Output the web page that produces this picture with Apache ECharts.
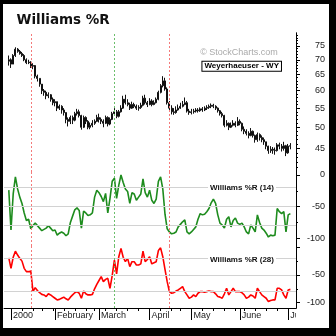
<!DOCTYPE html>
<html><head><meta charset="utf-8">
<script src="https://cdn.jsdelivr.net/npm/echarts@6/dist/echarts.min.js"></script>
<style>html,body{margin:0;padding:0;background:#000}#c{width:336px;height:336px}</style>
</head><body><div id="c"></div>
<script>
// Weyerhaeuser (WY) daily bars, 31 Dec 1999 - 5 Jul 2000, with Williams %R (14) and (28)
const holidays = ['2000-01-17', '2000-02-21', '2000-04-21', '2000-05-29', '2000-07-04'];
const firstDay = '1999-12-31', lastDay = '2000-07-05';
const monthLabels = ['2000', 'February', 'March', 'April', 'May', 'June', 'July'];

const opens = [69.5,70.0,68.5,71.5,73.8,73.0,72.2,71.5,70.0,69.0,69.2,67.8,68.0,64.5,63.8,62.0,60.0,59.5,58.5,58.8,57.5,56.5,56.8,55.0,55.5,54.5,53.8,52.0,51.5,52.5,51.8,53.5,54.0,53.0,50.0,52.5,51.5,50.0,50.5,51.0,51.5,52.5,52.0,51.5,51.0,52.5,50.8,52.0,53.5,54.0,52.8,54.0,55.0,57.5,56.5,56.0,55.0,56.0,55.5,55.0,55.2,55.8,57.8,56.5,56.0,57.0,56.0,56.5,57.5,59.5,61.5,63.0,60.5,56.5,55.0,54.0,53.8,54.5,55.0,55.5,56.0,56.5,54.2,53.8,54.0,54.2,54.5,54.3,54.8,54.5,55.0,55.2,55.5,55.8,55.5,55.0,54.3,53.5,53.0,50.5,51.0,50.0,50.5,51.0,50.5,51.5,51.0,49.5,49.0,48.5,48.0,49.0,48.0,47.0,48.2,47.5,47.0,46.5,45.5,44.5,44.8,44.6,44.5,45.8,45.5,45.0,45.6,44.0,45.5];
const highs = [71.5,70.5,72.0,74.5,74.2,73.5,72.8,72.0,70.5,70.0,69.5,68.8,68.2,65.0,63.8,62.0,60.5,60.0,59.5,59.0,58.0,57.5,56.8,56.0,55.8,55.0,53.8,52.5,53.0,53.0,54.0,54.8,54.6,53.2,53.0,52.8,51.8,51.2,51.8,52.0,53.2,53.5,52.5,52.0,53.0,52.8,52.5,54.0,55.0,54.5,54.5,55.8,58.5,58.8,57.5,56.5,56.8,56.5,56.0,55.8,56.5,58.5,58.8,57.0,57.8,57.5,57.2,58.0,60.0,62.0,64.5,64.0,61.0,57.0,55.8,55.0,55.5,56.0,56.5,57.0,58.0,57.0,54.8,54.8,54.8,55.0,55.0,55.2,55.3,55.5,55.8,56.0,56.3,56.2,55.8,55.2,54.5,54.0,53.2,51.8,51.2,51.2,51.8,51.5,52.6,52.0,51.2,50.2,49.5,49.0,49.8,49.2,48.2,48.7,48.5,48.0,47.5,46.5,45.6,45.5,45.3,45.2,46.2,46.3,46.0,46.5,45.8,46.0,46.2];
const lows = [68.0,67.2,68.5,71.0,72.5,71.8,71.0,69.5,68.5,68.5,67.2,66.8,63.8,62.8,61.2,59.0,58.5,57.5,57.8,56.8,55.8,55.5,54.2,54.5,53.5,53.0,51.0,50.2,50.8,50.8,51.5,53.0,52.5,49.4,49.8,50.8,49.5,49.5,50.0,50.6,51.3,51.2,50.8,50.0,50.8,50.2,50.5,51.8,53.0,52.3,52.5,53.8,54.8,56.0,55.5,54.5,54.8,55.0,54.5,54.3,54.8,55.5,56.0,55.3,55.8,55.5,55.8,56.3,57.2,59.2,61.0,60.0,56.0,54.5,53.3,53.2,53.5,54.3,54.8,55.2,55.8,53.8,53.2,53.3,53.5,53.8,53.8,54.0,54.0,54.2,54.5,54.8,55.0,55.0,54.5,53.8,53.0,52.5,50.0,50.2,49.3,49.8,50.2,50.0,50.3,50.5,49.0,48.3,48.0,47.3,47.8,47.5,46.3,46.5,46.8,46.4,45.8,44.8,43.8,44.0,43.8,43.6,44.3,44.8,44.3,44.5,43.3,43.8,44.8];
const closes = [70.0,68.5,71.5,73.8,73.0,72.2,71.5,70.0,69.0,69.2,67.8,68.0,64.5,63.8,62.0,60.0,59.5,58.5,58.8,57.5,56.5,56.8,55.0,55.5,54.5,53.8,52.0,51.5,52.5,51.8,53.5,54.0,53.0,50.0,52.5,51.5,50.0,50.5,51.0,51.5,52.5,52.0,51.5,51.0,52.5,50.8,52.0,53.5,54.0,52.8,54.0,55.0,57.5,56.5,56.0,55.0,56.0,55.5,55.0,55.2,55.8,57.8,56.5,56.0,57.0,56.0,56.5,57.5,59.5,61.5,63.0,60.5,56.5,55.0,54.0,53.8,54.5,55.0,55.5,56.0,56.5,54.2,53.8,54.0,54.2,54.5,54.3,54.8,54.5,55.0,55.2,55.5,55.8,55.5,55.0,54.3,53.5,53.0,50.5,51.0,50.0,50.5,51.0,50.5,51.5,51.0,49.5,49.0,48.5,48.0,49.0,48.0,47.0,48.2,47.5,47.0,46.5,45.5,44.5,44.8,44.6,44.5,45.8,45.5,45.0,45.6,44.0,45.5,45.6];

const wr14 = [-24,-87,-30,-3,-22,-35,-45,-60,-72,-70,-85,-80,-76,-80,-84,-88,-86,-84,-80,-84,-88,-87,-95,-92,-90,-92,-96,-93,-75,-65,-55,-52,-56,-84,-57,-60,-64,-63,-60,-35,-24,-28,-34,-42,-29,-60,-37,-10,-5,-37,-16,0,-12,-22,-26,-45,-28,-30,-40,-35,-30,-6,-28,-35,-24,-40,-45,-38,-10,-3,-22,-62,-85,-90,-93,-92,-90,-82,-78,-74,-71,-90,-93,-90,-86,-82,-70,-61,-63,-62,-58,-53,-44,-38,-45,-63,-76,-79,-84,-70,-66,-82,-72,-68,-76,-78,-76,-82,-90,-93,-79,-84,-90,-63,-75,-84,-87,-92,-98,-95,-96,-95,-53,-58,-61,-58,-90,-63,-61];
const wr28 = [-19,-38,-18,-7,-14,-20,-25,-38,-44,-44,-43,-80,-73,-78,-82,-85,-86,-89,-84,-86,-89,-92,-95,-94,-92,-90,-93,-95,-90,-86,-82,-80,-83,-92,-79,-84,-86,-86,-85,-75,-67,-60,-53,-62,-58,-56,-74,-51,-23,-48,-17,-2,-18,-26,-20,-35,-26,-26,-32,-32,-30,-7,-26,-22,-17,-30,-28,-26,-6,-1,-17,-40,-62,-80,-83,-82,-79,-77,-74,-71,-80,-86,-92,-90,-86,-89,-83,-80,-80,-81,-80,-79,-80,-80,-84,-89,-90,-92,-84,-74,-86,-80,-74,-80,-80,-80,-82,-86,-92,-90,-86,-88,-92,-74,-80,-86,-89,-92,-98,-96,-95,-95,-74,-74,-77,-86,-92,-77,-76];

// signal days (positions on the trading-day axis)
const redSignals = [10.4, 73];
const greenSignals = [47.8];

const priceMajor = [45, 50, 55, 60, 65, 70, 75];
const priceMinor = [41,42,43,44,46,47,48,49,51,52,53,54,56,57,58,59,61,62,63,64,66,67,68,69,71,72,73,74,76,77,78,79];
const wrMajor = [0, -50, -100];
const wrMinor = [-25, -75];
const wr14Labels = [0, -50, -100];
const wr28Labels = [-50, -100];
const wrLevels = [-20, -50, -80];

// trading-day calendar
const dates = [];
for (let d = new Date(firstDay + 'T12:00:00Z'); d <= new Date(lastDay + 'T12:00:00Z'); d.setUTCDate(d.getUTCDate() + 1)) {
  const wd = d.getUTCDay();
  const s = d.toISOString().slice(0, 10);
  if (wd === 0 || wd === 6 || holidays.includes(s)) continue;
  dates.push(s);
}
const monthTicks = [], weekTicks = [];
dates.forEach((s, k) => {
  if (k === 0) return;
  const p = dates[k - 1];
  if (s.slice(5, 7) !== p.slice(5, 7)) monthTicks.push(k);
  if (new Date(s + 'T12:00:00Z').getUTCDay() <= new Date(p + 'T12:00:00Z').getUTCDay()) weekTicks.push(k);
});

const xMin = -2.18, xMax = 130.55;
const ohlc = dates.map((s, k) => [k, opens[k], closes[k], lows[k], highs[k]]);
const line14 = dates.map((s, k) => [k, wr14[k]]);
const line28 = dates.map((s, k) => [k, wr28[k]]);

const vLines = () => redSignals.map(x => ({ xAxis: x, lineStyle: { color: '#f47a7a', type: [2, 2], width: 1 } }))
  .concat(greenSignals.map(x => ({ xAxis: x, lineStyle: { color: '#6cbf6c', type: [2, 2], width: 1 } })));
const levelLines = () => wrLevels.map(v => ({ yAxis: v, lineStyle: { color: '#d2d2d2', type: 'solid', width: 1 } }));
const markCfg = data => ({ silent: true, symbol: ['none', 'none'], label: { show: false }, animation: false, precision: 4, data });

const axisFont = { fontSize: 9, fontFamily: 'Liberation Sans', color: '#222' };
const hiddenX = g => ({ gridIndex: g, type: 'value', min: xMin, max: xMax, show: false });
const yPair = (g, type, min, max, minor, major, labels, minorLen) => [
  { gridIndex: g, type, min, max, position: 'right',
    axisLine: { show: true, onZero: false, lineStyle: { color: '#000', width: 1 } },
    axisTick: { show: true, customValues: minor, length: minorLen, lineStyle: { color: '#000' } },
    axisLabel: { show: false }, splitLine: { show: false } },
  { gridIndex: g, type, min, max, position: 'right',
    axisLine: { show: true, onZero: false, lineStyle: { color: '#000', width: 1 } },
    axisTick: { show: true, customValues: major, length: 4, lineStyle: { color: '#000' } },
    axisLabel: Object.assign({ show: true, customValues: labels, margin: 29, align: 'right' }, axisFont),
    splitLine: { show: false } }
];

const chart = echarts.init(document.getElementById('c'), null, { renderer: 'canvas', width: 336, height: 336 });
chart.setOption({
  animation: false,
  backgroundColor: '#000',
  grid: [
    { left: 4, right: 40, top: 33, height: 139 },
    { left: 4, right: 40, top: 172, height: 74 },
    { left: 4, right: 40, top: 246, height: 62 }
  ],
  xAxis: [
    hiddenX(0), hiddenX(1),
    { gridIndex: 2, type: 'value', position: 'bottom', min: xMin, max: xMax,
      axisLine: { show: true, onZero: false, lineStyle: { color: '#000', width: 1 } },
      axisTick: { show: true, customValues: weekTicks, length: 3, lineStyle: { color: '#000', width: 1 } },
      axisLabel: { show: false }, splitLine: { show: false } },
    { gridIndex: 2, type: 'value', position: 'bottom', min: xMin, max: xMax,
      axisLine: { show: false, onZero: false },
      axisTick: { show: true, customValues: monthTicks, length: 12, lineStyle: { color: '#000', width: 1 } },
      axisLabel: Object.assign({ show: true, customValues: monthTicks, margin: 3, align: 'left', padding: [0, 0, 0, 2],
        formatter: v => monthLabels[monthTicks.indexOf(v)] }, axisFont),
      splitLine: { show: false } }
  ],
  yAxis: [
    ...yPair(0, 'log', 40, 80, priceMinor, priceMajor, priceMajor, 2),
    ...yPair(1, 'value', -112.2, 4.7, wrMinor, wrMajor, wr14Labels, 2),
    ...yPair(2, 'value', -109.6, 2.3, wrMinor, wrMajor, wr28Labels, 2)
  ],
  series: [
    { type: 'candlestick', xAxisIndex: 0, yAxisIndex: 0, data: ohlc, encode: { x: 0, y: [1, 2, 3, 4] },
      barWidth: 1.4,
      itemStyle: { color: '#111', color0: '#111', borderColor: '#111', borderColor0: '#111', borderWidth: 1 },
      markLine: markCfg(vLines()) },
    { type: 'line', name: 'Williams %R (14)', xAxisIndex: 1, yAxisIndex: 2, data: line14,
      showSymbol: false, lineStyle: { color: '#1e8c1e', width: 1.6 }, z: 3,
      markLine: markCfg(levelLines().concat(vLines())) },
    { type: 'line', name: 'Williams %R (28)', xAxisIndex: 2, yAxisIndex: 4, data: line28,
      showSymbol: false, lineStyle: { color: '#ff0000', width: 1.6 }, z: 3,
      markLine: markCfg(levelLines().concat(vLines())) }
  ],
  graphic: [
    { type: 'rect', z: -1, silent: true, shape: { x: 3, y: 4, width: 326, height: 324 }, style: { fill: '#fff' } },
    { type: 'text', z: 100, style: { text: 'Williams %R', x: 16.5, y: 20.5, align: 'left', verticalAlign: 'middle',
      font: 'bold 13.5px "DejaVu Sans"', fill: '#111' } },
    { type: 'text', z: 100, style: { text: '\u00a9 StockCharts.com', x: 239, y: 52.5, align: 'center', verticalAlign: 'middle',
      font: '9px "Liberation Sans"', fill: '#aaa' } },
    { type: 'text', z: 100, style: { text: 'Weyerhaeuser - WY', x: 241.7, y: 66.2, align: 'center', verticalAlign: 'middle',
      font: 'bold 8px "Liberation Sans"', fill: '#000', backgroundColor: '#fff', borderColor: '#000', borderWidth: 1, padding: [1, 2, 0, 2] } },
    { type: 'text', z: 100, style: { text: 'Williams %R (14)', x: 242, y: 187.7, align: 'center', verticalAlign: 'middle',
      font: 'bold 8px "Liberation Sans"', fill: '#111', backgroundColor: '#fff', padding: [0, 2] } },
    { type: 'text', z: 100, style: { text: 'Williams %R (28)', x: 242, y: 260, align: 'center', verticalAlign: 'middle',
      font: 'bold 8px "Liberation Sans"', fill: '#111', backgroundColor: '#fff', padding: [0, 2] } },
    // the plot frame clips the last month name on the right
    { type: 'rect', z: 100, silent: true, shape: { x: 296, y: 311, width: 33, height: 16 }, style: { fill: '#fff' } }
  ]
});
</script></body></html>
